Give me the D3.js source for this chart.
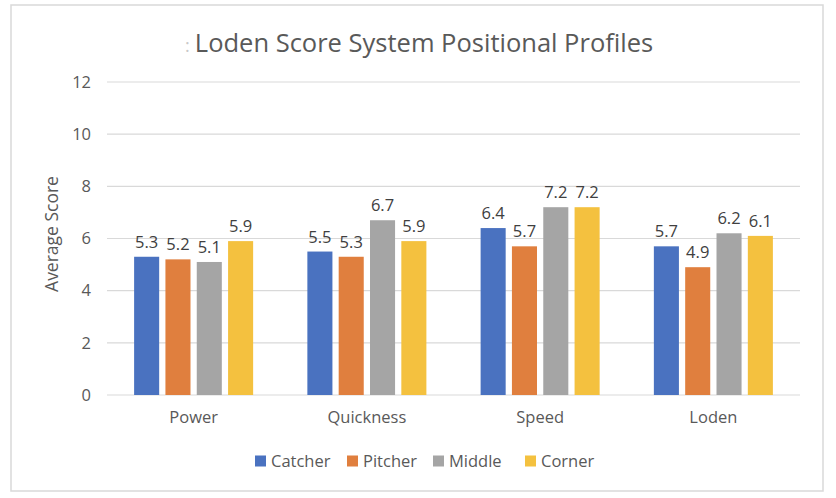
<!DOCTYPE html>
<html><head><meta charset="utf-8">
<script src="https://cdn.jsdelivr.net/npm/d3@7"></script>
<style>body{margin:0;background:#fff;} text{font-family:"Open Sans","Noto Sans",sans-serif;}</style>
</head><body>
<svg id="c" width="836" height="498"></svg>
<script>
const categories = ["Power", "Quickness", "Speed", "Loden"];
const seriesNames = ["Catcher", "Pitcher", "Middle", "Corner"];
const catcher = [5.3, 5.5, 6.4, 5.7];
const pitcher = [5.2, 5.3, 5.7, 4.9];
const middle = [5.1, 6.7, 7.2, 6.2];
const corner = [5.9, 5.9, 7.2, 6.1];
const yTicks = [0, 2, 4, 6, 8, 10, 12];
const colors = ["#4a72c0", "#e07f3e", "#a5a5a5", "#f4c13f"];
const seriesVals = [catcher, pitcher, middle, corner];
const FONT = '"Open Sans","Noto Sans",sans-serif';

const svg = d3.select("#c");
svg.append("rect").attr("x", 11).attr("y", 5).attr("width", 812).attr("height", 486)
  .attr("fill", "#fff").attr("stroke", "#d9d9d9").attr("stroke-width", 1.5);

const x0 = d3.scaleBand().domain(categories).range([107, 800]).paddingInner(0.313).paddingOuter(0.1565);
const x1 = d3.scaleBand().domain(seriesNames).range([0, x0.bandwidth()]).paddingInner(0.2);
const y = d3.scaleLinear().domain([0, 12]).range([395, 82]);

// gridlines
svg.append("g").selectAll("line").data(yTicks).join("line")
  .attr("x1", 107).attr("x2", 800)
  .attr("y1", d => y(d)).attr("y2", d => y(d))
  .attr("stroke", "#d9d9d9").attr("stroke-width", 1.2);

// y axis labels
const yAxis = d3.axisLeft(y).tickValues(yTicks).tickSize(0).tickPadding(16);
const gy = svg.append("g").attr("transform", "translate(107,0)").call(yAxis);
gy.select(".domain").remove();
gy.selectAll("text").attr("font-size", 16.5).attr("fill", "#595959").style("font-family", FONT);

// x axis labels
const xAxis = d3.axisBottom(x0).tickSize(0).tickPadding(16);
const gx = svg.append("g").attr("transform", "translate(0,395)").call(xAxis);
gx.select(".domain").remove();
gx.selectAll("text").attr("font-size", 16.5).attr("fill", "#595959").style("font-family", FONT);

// bars
const rows = [];
categories.forEach((c, i) => seriesNames.forEach((s, j) => rows.push({c, s, j, v: seriesVals[j][i]})));
svg.append("g").selectAll("rect").data(rows).join("rect")
  .attr("x", d => x0(d.c) + x1(d.s))
  .attr("y", d => y(d.v))
  .attr("width", x1.bandwidth())
  .attr("height", d => y(0) - y(d.v))
  .attr("fill", d => colors[d.j]);

svg.append("g").selectAll("text").data(rows).join("text")
  .attr("x", d => x0(d.c) + x1(d.s) + x1.bandwidth() / 2)
  .attr("y", d => y(d.v) - 9)
  .attr("text-anchor", "middle")
  .attr("font-size", 16.5).attr("fill", "#404040")
  .text(d => d3.format(".1f")(d.v));

// title
svg.append("text").attr("x", 185).attr("y", 52).attr("font-size", 18).attr("fill", "#c8c8c8").text(":");
svg.append("text").attr("x", 424).attr("y", 52).attr("text-anchor", "middle")
  .attr("font-size", 25.5).attr("fill", "#595959").text("Loden Score System Positional Profiles");

// y axis title
svg.append("text").attr("transform", "translate(58,234) rotate(-90)").attr("text-anchor", "middle")
  .attr("font-size", 17.5).attr("fill", "#595959").text("Average Score");

// legend
const legX = [255, 347, 433, 525];
const lg = svg.append("g").selectAll("g").data(seriesNames).join("g")
  .attr("transform", (d, i) => `translate(${legX[i]},461)`);
lg.append("rect").attr("x", 0).attr("y", -5.5).attr("width", 11).attr("height", 11).attr("fill", (d, i) => colors[i]);
lg.append("text").attr("x", 16).attr("y", 6).attr("font-size", 16.5).attr("fill", "#595959").text(d => d);
</script>
</body></html>
